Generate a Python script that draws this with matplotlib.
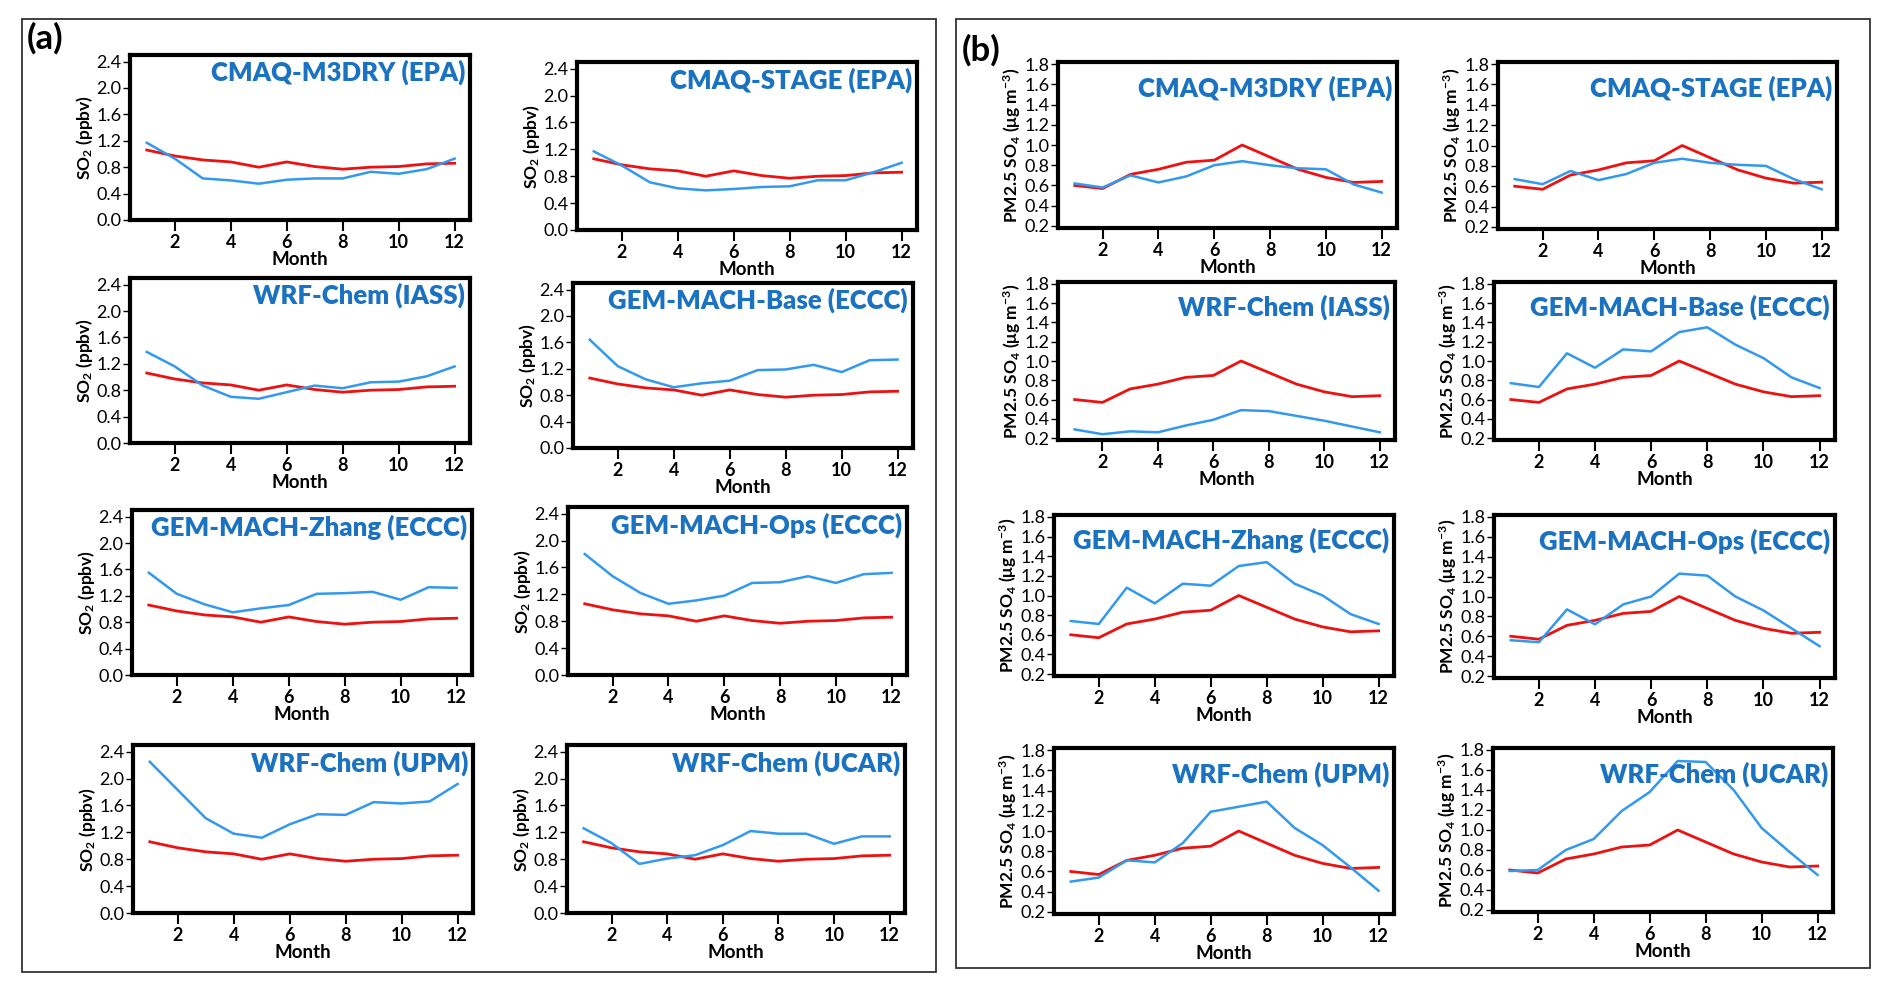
import matplotlib
matplotlib.use("Agg")
import matplotlib.pyplot as plt
from matplotlib.patches import Rectangle

plt.rcParams['font.family'] = ['Lato', 'DejaVu Sans']
plt.rcParams['mathtext.fontset'] = 'custom'
plt.rcParams['mathtext.rm'] = 'Lato'
plt.rcParams['mathtext.bf'] = 'Lato:bold'
plt.rcParams['mathtext.it'] = 'Lato:italic'

months = list(range(1, 13))

# ---- Panel (a): SO2 (ppbv) ----
so2_obs = [1.06, 0.97, 0.91, 0.88, 0.80, 0.88, 0.81, 0.77, 0.80, 0.81, 0.85, 0.86]
so2_titles = ["CMAQ-M3DRY (EPA)", "CMAQ-STAGE (EPA)", "WRF-Chem (IASS)", "GEM-MACH-Base (ECCC)",
              "GEM-MACH-Zhang (ECCC)", "GEM-MACH-Ops (ECCC)", "WRF-Chem (UPM)", "WRF-Chem (UCAR)"]
so2_cmaq_m3dry = [1.17, 0.93, 0.63, 0.60, 0.55, 0.61, 0.63, 0.63, 0.73, 0.70, 0.77, 0.93]
so2_cmaq_stage = [1.17, 0.96, 0.71, 0.62, 0.59, 0.61, 0.64, 0.65, 0.74, 0.74, 0.86, 1.00]
so2_wrf_iass = [1.38, 1.16, 0.87, 0.70, 0.67, 0.77, 0.87, 0.83, 0.92, 0.93, 1.01, 1.16]
so2_gem_base = [1.64, 1.24, 1.04, 0.92, 0.98, 1.02, 1.18, 1.19, 1.26, 1.15, 1.33, 1.34]
so2_gem_zhang = [1.55, 1.23, 1.07, 0.95, 1.01, 1.06, 1.23, 1.24, 1.26, 1.14, 1.33, 1.32]
so2_gem_ops = [1.80, 1.47, 1.22, 1.06, 1.11, 1.18, 1.37, 1.38, 1.47, 1.37, 1.50, 1.52]
so2_wrf_upm = [2.25, 1.83, 1.41, 1.18, 1.12, 1.32, 1.47, 1.46, 1.65, 1.63, 1.66, 1.92]
so2_wrf_ucar = [1.26, 1.04, 0.73, 0.81, 0.86, 1.01, 1.22, 1.18, 1.18, 1.03, 1.14, 1.14]
so2_models = [so2_cmaq_m3dry, so2_cmaq_stage, so2_wrf_iass, so2_gem_base,
              so2_gem_zhang, so2_gem_ops, so2_wrf_upm, so2_wrf_ucar]
so2_yticks = [0.0, 0.4, 0.8, 1.2, 1.6, 2.0, 2.4]

# ---- Panel (b): PM2.5 SO4 (ug m-3) ----
so4_obs = [0.60, 0.57, 0.71, 0.76, 0.83, 0.85, 1.00, 0.88, 0.76, 0.68, 0.63, 0.64]
so4_titles = so2_titles
so4_cmaq_m3dry = [0.62, 0.58, 0.70, 0.63, 0.69, 0.80, 0.84, 0.80, 0.77, 0.76, 0.61, 0.53]
so4_cmaq_stage = [0.67, 0.62, 0.75, 0.66, 0.72, 0.83, 0.87, 0.83, 0.81, 0.80, 0.67, 0.57]
so4_wrf_iass = [0.29, 0.24, 0.27, 0.26, 0.33, 0.39, 0.49, 0.48, 0.43, 0.38, 0.32, 0.26]
so4_gem_base = [0.77, 0.73, 1.08, 0.93, 1.12, 1.10, 1.30, 1.35, 1.17, 1.03, 0.83, 0.72]
so4_gem_zhang = [0.74, 0.71, 1.08, 0.92, 1.12, 1.10, 1.30, 1.34, 1.12, 1.00, 0.81, 0.71]
so4_gem_ops = [0.56, 0.54, 0.87, 0.72, 0.92, 1.00, 1.23, 1.21, 1.00, 0.86, 0.68, 0.50]
so4_wrf_upm = [0.50, 0.54, 0.71, 0.69, 0.88, 1.19, 1.24, 1.29, 1.03, 0.86, 0.64, 0.41]
so4_wrf_ucar = [0.59, 0.60, 0.80, 0.91, 1.19, 1.38, 1.69, 1.68, 1.40, 1.02, 0.78, 0.55]
so4_models = [so4_cmaq_m3dry, so4_cmaq_stage, so4_wrf_iass, so4_gem_base,
              so4_gem_zhang, so4_gem_ops, so4_wrf_upm, so4_wrf_ucar]
so4_yticks = [0.2, 0.4, 0.6, 0.8, 1.0, 1.2, 1.4, 1.6, 1.8]

xticks = [2, 4, 6, 8, 10, 12]

W, H = 1892, 991
fig = plt.figure(figsize=(W / 100, H / 100), dpi=100)

# outer boxes
for (x0, y0, x1, y1) in [(22, 19, 936, 972), (956, 19, 1870, 968)]:
    fig.add_artist(Rectangle((x0 / W, 1 - y1 / H), (x1 - x0) / W, (y1 - y0) / H,
                             transform=fig.transFigure, fill=False, edgecolor='#333333',
                             linewidth=1.3))
fig.text(27 / W, 1 - 38 / H, "(a)", fontsize=25, fontweight='bold', va='center', ha='left')
fig.text(962 / W, 1 - 50 / H, "(b)", fontsize=25, fontweight='bold', va='center', ha='left')

# axes boxes in pixel coordinates (left, top, right, bottom)
so2_boxes = [(130, 55, 470, 220), (577, 62, 917, 230),
             (130, 278, 470, 443), (573, 283, 913, 448),
             (132, 510, 472, 675), (568, 507, 907, 675),
             (133, 745, 473, 913), (567, 745, 905, 913)]
so4_boxes = [(1058, 62, 1397, 228), (1498, 62, 1837, 229),
             (1058, 282, 1395, 440), (1494, 282, 1835, 440),
             (1054, 515, 1394, 676), (1494, 515, 1835, 678),
             (1054, 748, 1394, 914), (1493, 748, 1833, 912)]

BLUE = '#3399ee'
RED = '#ee1111'
TITLE = '#1a72c0'


def make_panel(box, obs, model, title, yticks, ylim, ylabel, title_y, ylsize):
    l, t, r, b = box
    ax = fig.add_axes([l / W, 1 - b / H, (r - l) / W, (b - t) / H])
    ax.plot(months, obs, color=RED, lw=2.0, zorder=3)
    ax.plot(months, model, color=BLUE, lw=1.8, zorder=3)
    ax.set_xlim(0.4, 12.55)
    ax.set_ylim(*ylim)
    ax.set_xticks(xticks)
    ax.set_xticklabels([str(v) for v in xticks], fontweight='bold', fontsize=13)
    ax.set_yticks(yticks)
    ax.set_yticklabels([f"{v:.1f}" for v in yticks], fontsize=13)
    for s in ax.spines.values():
        s.set_linewidth(3.0)
    ax.tick_params(axis='x', direction='out', length=8, width=1.5, pad=2)
    ax.tick_params(axis='y', direction='out', length=5, width=1.0, pad=1)
    ax.set_xlabel("Month", fontsize=13.5, fontweight='bold', labelpad=0)
    ax.set_ylabel(ylabel, fontsize=ylsize, fontweight='bold', labelpad=1)
    ax.text(0.985, title_y, title, transform=ax.transAxes, ha='right', va='top',
            color=TITLE, fontsize=18.5, fontweight='heavy', zorder=4)
    return ax


for box, model, title in zip(so2_boxes, so2_models, so2_titles):
    make_panel(box, so2_obs, model, title, so2_yticks, (0.0, 2.5),
               r"$\mathbf{SO_2}$ (ppbv)", 0.97, 12.5)

for box, model, title in zip(so4_boxes, so4_models, so4_titles):
    make_panel(box, so4_obs, model, title, so4_yticks, (0.18, 1.82),
               r"PM2.5 $\mathbf{SO_4}$ ($\mathbf{\mu}$g m$\mathbf{^{-3}}$)", 0.92, 12.5)

fig.savefig("out.png", dpi=100)
